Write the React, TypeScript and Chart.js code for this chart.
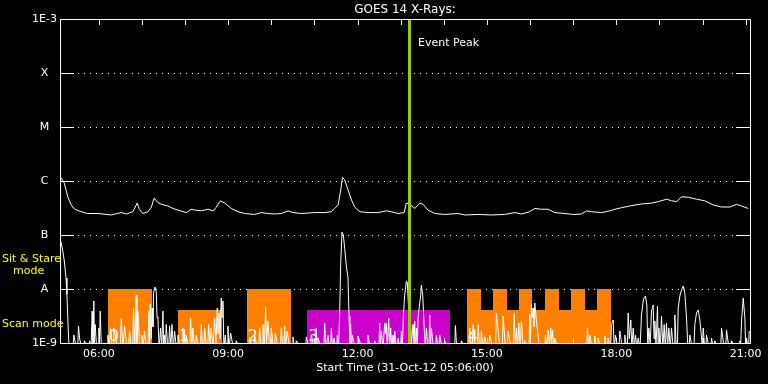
import React, { useEffect, useRef } from 'react';
import { Chart, registerables } from 'chart.js';

Chart.register(...registerables);

// ---- axis ticks ----
const hourMarks = [6, 7, 8, 9, 10, 11, 12, 13, 14, 15, 16, 17, 18, 19, 20, 21];
const xTickValues = [6, 9, 12, 15, 18, 21];
const xTickLabels = ['06:00', '09:00', '12:00', '15:00', '18:00', '21:00'];
const yTickValues = [1e-9, 1e-8, 1e-7, 1e-6, 1e-5, 1e-4, 1e-3];
const yTickLabels = ['1E-9', 'A', 'B', 'C', 'M', 'X', '1E-3'];
const xMin = 5.1; // 05:06
const xMax = 21.1;

// ---- GOES long channel (1-8 A): [hour, flux W/m2] ----
const longChannel: [number, number][] = [
  [5.11, 1.2e-6], [5.20, 9.1e-7], [5.28, 5.1e-7], [5.36, 3.6e-7], [5.44, 3.0e-7], [5.59, 2.7e-7],
  [5.74, 2.5e-7], [5.98, 2.5e-7], [6.29, 2.35e-7], [6.52, 2.6e-7], [6.64, 2.45e-7], [6.79, 2.7e-7],
  [6.89, 3.9e-7], [6.94, 3.0e-7], [7.02, 2.5e-7], [7.14, 2.7e-7], [7.22, 3.3e-7], [7.28, 4.8e-7],
  [7.37, 4.0e-7], [7.45, 3.7e-7], [7.60, 3.45e-7], [7.72, 3.1e-7], [7.83, 2.9e-7], [8.03, 2.6e-7],
  [8.14, 3.0e-7], [8.22, 2.9e-7], [8.38, 2.8e-7], [8.53, 3.0e-7], [8.65, 2.8e-7], [8.72, 3.25e-7],
  [8.82, 4.3e-7], [8.92, 3.9e-7], [9.07, 3.1e-7], [9.23, 2.7e-7], [9.38, 2.5e-7], [9.61, 2.4e-7],
  [9.77, 2.6e-7], [9.92, 2.5e-7], [10.08, 2.45e-7], [10.23, 2.5e-7], [10.39, 2.8e-7], [10.50, 2.6e-7],
  [10.70, 2.5e-7], [11.00, 2.6e-7], [11.24, 2.6e-7], [11.39, 2.7e-7], [11.47, 3.1e-7], [11.55, 3.6e-7],
  [11.61, 6.8e-7], [11.65, 1.17e-6], [11.70, 1.05e-6], [11.78, 6.8e-7], [11.86, 4.45e-7], [11.93, 3.3e-7],
  [12.05, 2.7e-7], [12.24, 2.6e-7], [12.47, 2.6e-7], [12.67, 2.8e-7], [12.78, 2.7e-7], [12.94, 2.5e-7],
  [13.08, 2.6e-7], [13.13, 3.9e-7], [13.21, 3.7e-7], [13.33, 3.1e-7], [13.44, 3.9e-7], [13.52, 3.7e-7],
  [13.63, 2.9e-7], [13.79, 2.5e-7], [14.02, 2.4e-7], [14.33, 2.5e-7], [14.49, 2.35e-7], [14.79, 2.4e-7],
  [15.10, 2.35e-7], [15.41, 2.4e-7], [15.65, 2.6e-7], [15.80, 2.45e-7], [15.99, 2.7e-7], [16.11, 3.1e-7],
  [16.26, 3.0e-7], [16.42, 3.0e-7], [16.57, 2.6e-7], [16.81, 2.5e-7], [17.00, 2.4e-7], [17.19, 2.45e-7],
  [17.31, 2.8e-7], [17.42, 2.7e-7], [17.66, 2.6e-7], [17.85, 2.8e-7], [17.97, 3.0e-7], [18.12, 3.2e-7],
  [18.31, 3.45e-7], [18.58, 3.75e-7], [18.82, 3.9e-7], [18.97, 4.15e-7], [19.17, 4.6e-7], [19.28, 4.3e-7],
  [19.40, 4.15e-7], [19.51, 5.1e-7], [19.67, 5.0e-7], [19.86, 4.6e-7], [20.05, 4.3e-7], [20.25, 3.6e-7],
  [20.44, 3.3e-7], [20.63, 3.3e-7], [20.79, 3.7e-7], [20.90, 3.45e-7], [21.06, 3.1e-7],
];

// ---- GOES short channel (0.5-4 A): [hour, flux W/m2] ----
const shortChannel: [number, number][] = [
  [5.11, 8.2e-8], [5.16, 5.3e-8], [5.20, 3.3e-8], [5.24, 1.6e-8], [5.26, 7.9e-9], [5.29, 1.9e-9], [5.31, 8e-10],
  [5.40, 8e-10], [5.421, 1.41e-9], [5.48, 8e-10], [5.51, 8e-10], [5.529, 2.06e-9], [5.553, 1.24e-9], [5.6, 8e-10],
  [5.65, 8e-10], [5.669, 1.1e-9], [5.72, 8e-10], [5.77, 8e-10], [5.785, 1.1e-9], [5.82, 8e-10], [5.846, 3.9e-9],
  [5.865, 9e-10], [5.885, 6.0e-9], [5.90, 1e-9], [5.916, 2.2e-9], [5.95, 8e-10], [5.985, 8e-10], [6.001, 1.9e-9],
  [6.015, 9e-10], [6.032, 3.9e-9], [6.06, 8e-10], [6.19, 8e-10], [6.21, 1.4e-9], [6.24, 8e-10], [6.272, 1.9e-9],
  [6.31, 8e-10], [6.33, 8e-10], [6.349, 1.9e-9], [6.43, 8e-10], [6.50, 8e-10], [6.519, 2.9e-9], [6.56, 8e-10],
  [6.597, 2.06e-9], [6.65, 8e-10], [6.69, 8e-10], [6.712, 1.67e-9], [6.76, 8e-10], [6.785, 8e-10], [6.805, 4.45e-9],
  [6.835, 9e-10], [6.867, 7.7e-9], [6.885, 1e-9], [6.906, 3.9e-9], [6.95, 8e-10], [6.98, 8e-10], [6.999, 1.4e-9],
  [7.03, 8e-10], [7.04, 8e-10], [7.060, 1.67e-9], [7.11, 8e-10], [7.14, 8e-10], [7.161, 3.9e-9], [7.177, 1e-9],
  [7.192, 5.3e-9], [7.215, 1.2e-9], [7.238, 4.45e-9], [7.255, 2e-9], [7.269, 8.4e-9], [7.300, 1.09e-8],
  [7.331, 9.1e-9], [7.35, 3e-9], [7.370, 2.9e-9], [7.40, 8e-10], [7.432, 1.9e-9], [7.46, 8e-10], [7.486, 3.9e-9],
  [7.505, 8e-10], [7.525, 1.4e-9], [7.545, 8e-10], [7.563, 2.2e-9], [7.60, 8e-10], [7.62, 8e-10], [7.641, 2.06e-9],
  [7.67, 8e-10], [7.695, 2.2e-9], [7.73, 8e-10], [7.757, 1.67e-9], [7.80, 8e-10], [7.815, 8e-10], [7.834, 1.4e-9],
  [7.89, 8e-10], [7.93, 8e-10], [7.950, 1.9e-9], [7.99, 8e-10], [8.01, 8e-10], [8.027, 1.4e-9], [8.08, 8e-10],
  [8.11, 8e-10], [8.128, 2.9e-9], [8.155, 8e-10], [8.182, 1.9e-9], [8.22, 8e-10], [8.24, 8e-10], [8.259, 1.4e-9],
  [8.32, 8e-10], [8.355, 8e-10], [8.375, 2.2e-9], [8.41, 8e-10], [8.435, 8e-10], [8.453, 1.9e-9], [8.50, 8e-10],
  [8.525, 8e-10], [8.546, 2.2e-9], [8.58, 8e-10], [8.607, 1.9e-9], [8.65, 8e-10], [8.665, 8e-10], [8.685, 2.9e-9],
  [8.715, 1e-9], [8.747, 4.45e-9], [8.765, 1.5e-9], [8.785, 3.6e-9], [8.81, 1.2e-9], [8.839, 6.8e-9],
  [8.858, 3e-9], [8.878, 6.0e-9], [8.90, 8e-10], [8.932, 1.4e-9], [8.96, 8e-10], [8.975, 8e-10], [8.994, 2.06e-9],
  [9.02, 8e-10], [9.04, 8e-10], [9.056, 1.53e-9], [9.12, 8e-10], [9.17, 8e-10], [9.187, 1.1e-9], [9.25, 8e-10],
  [9.48, 8e-10], [9.497, 1.24e-9], [9.55, 8e-10], [9.595, 8e-10], [9.613, 1.41e-9], [9.67, 8e-10], [9.71, 8e-10],
  [9.729, 1.9e-9], [9.77, 8e-10], [9.79, 8e-10], [9.806, 2.2e-9], [9.84, 8e-10], [9.868, 4.6e-9], [9.89, 1e-9],
  [9.922, 2.55e-9], [9.96, 8e-10], [9.98, 8e-10], [9.999, 1.9e-9], [10.05, 8e-10], [10.075, 8e-10],
  [10.092, 1.53e-9], [10.16, 8e-10], [10.21, 8e-10], [10.231, 1.9e-9], [10.27, 8e-10], [10.29, 8e-10],
  [10.309, 2.06e-9], [10.33, 8e-10], [10.366, 1.67e-9], [10.43, 8e-10], [10.485, 8e-10], [10.502, 1.3e-9],
  [10.54, 8e-10], [10.565, 8e-10], [10.580, 1.1e-9], [10.70, 8e-10], [10.795, 8e-10], [10.812, 1.3e-9],
  [10.87, 8e-10], [10.91, 8e-10], [10.928, 1.41e-9], [10.99, 8e-10], [11.025, 8e-10], [11.044, 1.9e-9],
  [11.06, 8e-10], [11.082, 1.24e-9], [11.16, 8e-10], [11.22, 8e-10], [11.237, 2.35e-9], [11.27, 8e-10],
  [11.314, 1.4e-9], [11.35, 8e-10], [11.375, 8e-10], [11.392, 1.9e-9], [11.42, 8e-10], [11.454, 1.24e-9],
  [11.49, 8e-10], [11.515, 8e-10], [11.531, 1.4e-9], [11.56, 8e-10], [11.585, 3.6e-9], [11.608, 2.78e-8],
  [11.639, 1.13e-7], [11.670, 1.0e-7], [11.701, 5.7e-8], [11.740, 2.67e-8], [11.778, 1.6e-8], [11.802, 3.16e-9],
  [11.82, 1e-9], [11.840, 2.2e-9], [11.86, 8e-10], [11.879, 1.4e-9], [11.94, 8e-10], [11.99, 8e-10],
  [12.010, 1.35e-9], [12.10, 8e-10], [12.225, 8e-10], [12.242, 1.4e-9], [12.30, 8e-10], [12.38, 8e-10],
  [12.397, 1.1e-9], [12.45, 8e-10], [12.495, 8e-10], [12.513, 2.35e-9], [12.53, 9e-10], [12.552, 1.67e-9],
  [12.59, 8e-10], [12.61, 8e-10], [12.629, 2.35e-9], [12.645, 1.5e-9], [12.668, 2.35e-9], [12.69, 8e-10],
  [12.705, 8e-10], [12.722, 2.9e-9], [12.745, 8e-10], [12.768, 1.9e-9], [12.795, 8e-10], [12.822, 1.4e-9],
  [12.84, 8e-10], [12.861, 1.67e-9], [12.90, 8e-10], [12.92, 8e-10], [12.939, 1.24e-9], [12.98, 8e-10],
  [13.0, 8e-10], [13.016, 1.67e-9], [13.04, 8e-10], [13.062, 3.16e-9], [13.093, 7.7e-9], [13.132, 1.4e-8],
  [13.155, 1.29e-8], [13.18, 5e-9], [13.209, 3.9e-9], [13.25, 1e-9], [13.287, 2.2e-9], [13.305, 1e-9],
  [13.325, 2.55e-9], [13.345, 8e-10], [13.364, 1.9e-9], [13.385, 8e-10], [13.403, 2.9e-9], [13.433, 4.85e-9],
  [13.464, 7.7e-9], [13.480, 1.18e-8], [13.511, 7.7e-9], [13.542, 2.2e-9], [13.57, 8e-10], [13.596, 1.9e-9],
  [13.63, 8e-10], [13.655, 8e-10], [13.673, 3.3e-9], [13.69, 8e-10], [13.712, 1.9e-9], [13.76, 8e-10],
  [13.81, 8e-10], [13.828, 1.4e-9], [13.865, 8e-10], [13.885, 8e-10], [13.905, 1.4e-9], [13.96, 8e-10],
  [14.0, 8e-10], [14.021, 1.1e-9], [14.10, 8e-10], [14.25, 8e-10], [14.269, 2.1e-9], [14.30, 8e-10],
  [14.39, 8e-10], [14.408, 1.1e-9], [14.50, 8e-10], [14.58, 8e-10], [14.601, 1.9e-9], [14.64, 8e-10],
  [14.66, 8e-10], [14.679, 2.2e-9], [14.73, 8e-10], [14.775, 8e-10], [14.795, 2.2e-9], [14.83, 8e-10],
  [14.855, 8e-10], [14.872, 1.67e-9], [14.91, 8e-10], [14.93, 8e-10], [14.949, 1.3e-9], [15.00, 8e-10],
  [15.045, 8e-10], [15.065, 1.4e-9], [15.14, 8e-10], [15.20, 8e-10], [15.220, 3.6e-9], [15.30, 8e-10],
  [15.355, 8e-10], [15.375, 3.16e-9], [15.43, 8e-10], [15.47, 8e-10], [15.491, 1.67e-9], [15.56, 8e-10],
  [15.61, 8e-10], [15.630, 3.6e-9], [15.66, 8e-10], [15.684, 1.9e-9], [15.71, 8e-10], [15.738, 2.35e-9],
  [15.77, 8e-10], [15.800, 2.55e-9], [15.84, 8e-10], [15.86, 8e-10], [15.877, 1.1e-9], [15.94, 8e-10],
  [15.975, 8e-10], [15.993, 3.4e-9], [16.01, 1.2e-9], [16.032, 5.3e-9], [16.05, 3e-9], [16.070, 4.45e-9],
  [16.09, 2e-9], [16.109, 5.5e-9], [16.148, 2.55e-9], [16.186, 1.4e-9], [16.22, 8e-10], [16.34, 8e-10],
  [16.357, 1.4e-9], [16.39, 8e-10], [16.418, 1.74e-9], [16.45, 9e-10], [16.480, 1.9e-9], [16.50, 9e-10],
  [16.519, 1.74e-9], [16.545, 8e-10], [16.573, 1.24e-9], [16.65, 8e-10], [17.31, 8e-10], [17.331, 1.9e-9],
  [17.36, 8e-10], [17.385, 1.4e-9], [17.44, 8e-10], [17.48, 8e-10], [17.501, 1.35e-9], [17.54, 8e-10],
  [17.56, 8e-10], [17.578, 1.24e-9], [17.65, 8e-10], [17.715, 8e-10], [17.733, 1.35e-9], [17.77, 8e-10],
  [17.79, 8e-10], [17.811, 1.24e-9], [17.85, 8e-10], [17.87, 8e-10], [17.888, 2.2e-9], [17.927, 2.67e-9],
  [17.95, 8e-10], [17.981, 1.4e-9], [18.03, 8e-10], [18.06, 8e-10], [18.081, 1.67e-9], [18.14, 8e-10],
  [18.18, 8e-10], [18.197, 1.4e-9], [18.24, 8e-10], [18.255, 8e-10], [18.275, 3.6e-9], [18.30, 1.2e-9],
  [18.336, 2.67e-9], [18.36, 8e-10], [18.391, 1.9e-9], [18.42, 8e-10], [18.445, 1.4e-9], [18.48, 8e-10],
  [18.507, 1.24e-9], [18.55, 8e-10], [18.565, 8e-10], [18.584, 3.3e-9], [18.630, 6.5e-9], [18.677, 7.4e-9],
  [18.708, 5.05e-9], [18.73, 8e-10], [18.754, 1.9e-9], [18.785, 9e-10], [18.816, 3.9e-9], [18.855, 5.05e-9],
  [18.875, 1.2e-9], [18.893, 2.55e-9], [18.92, 8e-10], [18.955, 4.85e-9], [18.97, 8e-10], [18.986, 1.9e-9],
  [19.02, 8e-10], [19.048, 3.16e-9], [19.08, 8e-10], [19.110, 2.2e-9], [19.135, 8e-10], [19.164, 2.35e-9],
  [19.19, 8e-10], [19.218, 1.9e-9], [19.25, 8e-10], [19.280, 1.9e-9], [19.32, 8e-10], [19.34, 8e-10],
  [19.357, 3.3e-9], [19.39, 8e-10], [19.415, 8e-10], [19.435, 4.45e-9], [19.473, 7.4e-9], [19.512, 9.6e-9],
  [19.551, 1.13e-8], [19.589, 8.4e-9], [19.628, 2.9e-9], [19.66, 8e-10], [19.685, 8e-10], [19.705, 1.4e-9],
  [19.76, 8e-10], [19.80, 8e-10], [19.821, 2.2e-9], [19.860, 3.6e-9], [19.899, 4.1e-9], [19.937, 2.67e-9],
  [19.976, 1.24e-9], [19.995, 8e-10], [20.015, 1.9e-9], [20.05, 8e-10], [20.075, 8e-10], [20.092, 1.4e-9],
  [20.15, 8e-10], [20.19, 8e-10], [20.208, 1.24e-9], [20.25, 8e-10], [20.265, 8e-10], [20.285, 1.1e-9],
  [20.36, 8e-10], [20.42, 8e-10], [20.440, 1.9e-9], [20.50, 8e-10], [20.535, 8e-10], [20.556, 1.74e-9],
  [20.61, 8e-10], [20.655, 8e-10], [20.672, 1.1e-9], [20.77, 8e-10], [20.845, 8e-10], [20.866, 1.1e-9],
  [20.88, 8e-10], [20.904, 2.55e-9], [20.943, 6.8e-9], [20.981, 2.9e-9], [21.00, 8e-10], [21.020, 1.24e-9],
  [21.05, 8e-10], [21.065, 8e-10], [21.082, 1.67e-9],
];

// ---- observation mode blocks (scan / sit & stare) ----
const modeStart = [6.210, 7.834, 9.427, 10.835, 14.532];
const modeEnd = [7.238, 8.855, 10.464, 14.137, 17.872];
const modeTop = [1e-8, 4.1e-9, 1e-8, 4.1e-9, 4.1e-9];
const modeColor = ['#ff8000', '#ff8000', '#ff8000', '#cc00cc', '#ff8000'];
const modeLabel = ['0', '1', '2', '3', '4'];
const stareStart = [14.532, 15.135, 15.738, 16.341, 16.944, 17.547];
const stareEnd = [14.857, 15.460, 16.055, 16.666, 17.269, 17.872];
const stareTop = 1e-8;
const eventPeak = 13.182;

const FONT = '"DejaVu Sans", sans-serif';

const goesPlugin = {
  id: 'goesDecor',
  beforeDatasetsDraw(chart: any) {
    const { ctx, chartArea: a, scales } = chart;
    const x = scales.x, y = scales.y;
    ctx.save();
    // dotted grid lines at flare class levels
    ctx.fillStyle = '#ffffff';
    const L = Math.round(a.left), R = Math.round(a.right);
    for (const v of yTickValues.slice(1, -1)) {
      const py = Math.round(y.getPixelForValue(v));
      for (let px = L + 18; px < R - 14; px += 6) ctx.fillRect(px, py, 1, 1);
    }
    // mode blocks
    const yb = y.getPixelForValue(yTickValues[0]);
    modeStart.forEach((s, i) => {
      const x0 = Math.round(x.getPixelForValue(s));
      const x1 = Math.round(x.getPixelForValue(modeEnd[i]));
      const yt = Math.round(y.getPixelForValue(modeTop[i]));
      ctx.fillStyle = modeColor[i];
      ctx.fillRect(x0, yt, x1 - x0, yb - yt);
    });
    stareStart.forEach((s, i) => {
      const x0 = Math.round(x.getPixelForValue(s));
      const x1 = Math.round(x.getPixelForValue(stareEnd[i]));
      const yt = Math.round(y.getPixelForValue(stareTop));
      ctx.fillStyle = '#ff8000';
      ctx.fillRect(x0, yt, x1 - x0, yb - yt);
    });
    // block numbers
    ctx.fillStyle = '#ffffff';
    ctx.font = `16px ${FONT}`;
    ctx.textAlign = 'left';
    ctx.textBaseline = 'alphabetic';
    modeStart.forEach((s, i) => {
      const x0 = x.getPixelForValue(s);
      ctx.fillText(modeLabel[i], x0 + 1, yb - 2);
    });
    ctx.restore();
  },
  afterDatasetsDraw(chart: any) {
    const { ctx, chartArea: a, scales } = chart;
    const x = scales.x, y = scales.y;
    const L = Math.round(a.left), R = Math.round(a.right);
    const T = Math.round(a.top), B = Math.round(a.bottom);
    ctx.save();
    // event peak line
    const pe = Math.round(x.getPixelForValue(eventPeak));
    ctx.fillStyle = '#99cc00';
    ctx.fillRect(pe - 1, T, 3, B - T);
    // axes box
    ctx.fillStyle = '#ffffff';
    ctx.fillRect(L, T, R - L + 1, 1);
    ctx.fillRect(L, B, R - L + 1, 1);
    ctx.fillRect(L, T, 1, B - T + 1);
    ctx.fillRect(R, T, 1, B - T + 1);
    // y major ticks (both sides)
    for (const v of yTickValues) {
      const py = Math.round(y.getPixelForValue(v));
      ctx.fillRect(L, py, 14, 1);
      ctx.fillRect(R - 14, py, 15, 1);
    }
    // x hourly ticks (top and bottom)
    for (const h of hourMarks) {
      const px = Math.round(x.getPixelForValue(h));
      ctx.fillRect(px, T, 1, 6);
      ctx.fillRect(px, B - 5, 1, 6);
    }
    // texts
    ctx.textBaseline = 'middle';
    ctx.textAlign = 'center';
    ctx.font = `12px ${FONT}`;
    ctx.fillText('GOES 14 X-Rays:', (a.left + a.right) / 2, 10);
    ctx.font = `11px ${FONT}`;
    ctx.fillText('Start Time (31-Oct-12 05:06:00)', (a.left + a.right) / 2, 368);
    ctx.textAlign = 'left';
    ctx.fillText('Event Peak', pe + 9, 43);
    ctx.fillStyle = '#ffff00';
    ctx.fillText('Sit & Stare', 2, 259);
    ctx.fillText('mode', 13, 271);
    ctx.fillText('Scan mode', 2, 324);
    ctx.restore();
  },
};

export default function App() {
  const canvasRef = useRef<HTMLCanvasElement | null>(null);
  useEffect(() => {
    const canvas = canvasRef.current;
    if (!canvas) return;
    const chart = new Chart(canvas, {
      type: 'line',
      data: {
        datasets: [
          {
            label: 'Long',
            data: longChannel.map(([t, f]) => ({ x: t, y: f })),
            borderColor: '#ffffff',
            borderWidth: 1,
            pointRadius: 0,
            tension: 0,
          },
          {
            label: 'Short',
            data: shortChannel.map(([t, f]) => ({ x: t, y: f })),
            borderColor: '#ffffff',
            borderWidth: 1,
            pointRadius: 0,
            tension: 0,
          },
        ],
      },
      options: {
        animation: false,
        responsive: false,
        maintainAspectRatio: false,
        events: [],
        layout: { padding: { top: 19, right: 18, left: 0, bottom: 0 } },
        plugins: {
          legend: { display: false },
          tooltip: { enabled: false },
          title: { display: false },
        },
        scales: {
          x: {
            type: 'linear',
            min: xMin,
            max: xMax,
            afterBuildTicks: (s: any) => {
              s.ticks = hourMarks.map((v) => ({ value: v }));
            },
            afterFit: (s: any) => {
              s.height = 41;
            },
            grid: { display: false, drawTicks: false },
            border: { display: false },
            ticks: {
              autoSkip: false,
              maxRotation: 0,
              padding: 5,
              color: '#ffffff',
              font: { family: FONT, size: 11 },
              callback: (v: any) => {
                const i = xTickValues.indexOf(Number(v));
                return i >= 0 ? xTickLabels[i] : '';
              },
            },
          },
          y: {
            type: 'logarithmic',
            min: 1e-9,
            max: 1e-3,
            afterBuildTicks: (s: any) => {
              s.ticks = yTickValues.map((v) => ({ value: v }));
            },
            afterFit: (s: any) => {
              s.width = 60;
            },
            grid: { display: false, drawTicks: false },
            border: { display: false },
            ticks: {
              autoSkip: false,
              crossAlign: 'center',
              padding: 3,
              color: '#ffffff',
              font: { family: FONT, size: 11 },
              callback: (_v: any, i: number) => yTickLabels[i],
            },
          },
        },
      },
      plugins: [goesPlugin],
    } as any);
    return () => chart.destroy();
  }, []);
  return (
    <div style={{ position: 'fixed', left: 0, top: 0, width: 768, height: 384, background: '#000' }}>
      <canvas ref={canvasRef} width={768} height={384} style={{ display: 'block', width: 768, height: 384 }} />
    </div>
  );
}
